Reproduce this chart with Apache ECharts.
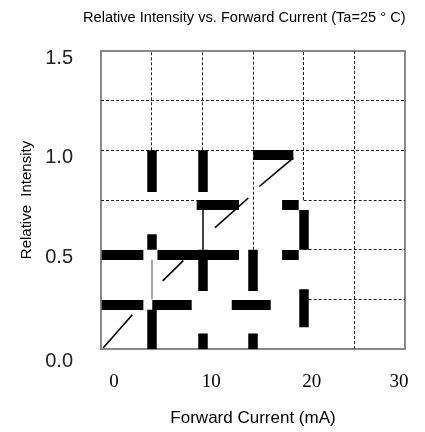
<!DOCTYPE html>
<html lang="en">
<head>
	<meta charset="UTF-8">
	<title>Relative Intensity vs. Forward Current</title>
	<style>
		html, body { margin: 0; padding: 0; background: #fff; }
		#main { width: 425px; height: 432px; }
	</style>
	<script src="https://cdn.jsdelivr.net/npm/echarts@6/dist/echarts.min.js"></script>
</head>
<body>
	<div id="main"></div>
	<script>
		// tick labels
		var xLabels = [0, 10, 20, 30];
		var yLabels = [0, 0.5, 1.0, 1.5];

		// curve pieces (mA, relative intensity)
		var curveA = [[0.23, 0.006], [3.09, 0.172]];
		var curveB = [[6.09, 0.343], [8.12, 0.445]];
		var curveC = [[11.25, 0.611], [14.54, 0.76]];
		var curveD = [[15.62, 0.818], [18.98, 0.962]];

		// thick vertical bars: [x, yFrom, yTo]
		var vBars = [
			[5, 0.79, 1.0], [10, 0.79, 1.0],
			[5, 0.5, 0.578], [10, 0.292, 0.5], [15, 0.292, 0.5],
			[20, 0.5, 0.70], [20, 0.109, 0.301],
			[5, 0, 0.197], [10, 0, 0.078], [15, 0, 0.078]
		];
		// thick horizontal bars: [y, xFrom, xTo]
		var hBars = [
			[0.977, 15.03, 18.98],
			[0.724, 9.44, 13.62], [0.724, 17.87, 19.51],
			[0.474, 0.07, 4.18], [0.474, 5.57, 13.62], [0.474, 17.87, 19.51],
			[0.222, 0.07, 4.18], [0.222, 5.06, 8.95], [0.222, 12.9, 16.75]
		];
		// thin connectors: [x, yFrom, yTo]
		var thinBlack = [[10, 0.50, 0.70]];
		var thinGray = [[5, 0.25, 0.45]];

		// dotted grid pieces
		var hGrid = [[1.25, 0, 30], [1.0, 0, 30], [0.75, 0, 9.44], [0.75, 20, 30], [0.5, 20, 30], [0.25, 20, 30]];
		var vGrid = [[5, 1.0, 1.5], [10, 1.0, 1.5], [15, 0.5, 1.5], [20, 0.75, 1.5], [25, 0, 1.5]];

		function vSeg(list) {
			return list.map(function (d) { return { coords: [[d[0], d[1]], [d[0], d[2]]] }; });
		}
		function hSeg(list) {
			return list.map(function (d) { return { coords: [[d[1], d[0]], [d[2], d[0]]] }; });
		}

		var chart = echarts.init(document.getElementById('main'));

		var option = {
			animation: false,
			backgroundColor: '#fff',
			title: {
				text: 'Relative Intensity vs. Forward Current (Ta=25 ° C)',
				left: 78,
				top: 5,
				textStyle: {
					fontFamily: 'Liberation Sans Narrow, Liberation Sans, Arial',
					fontSize: 14.6,
					fontWeight: 'normal',
					color: '#000'
				}
			},
			grid: {
				left: 101, top: 51, right: 20, bottom: 79,
				show: true,
				borderColor: '#888',
				borderWidth: 2
			},
			xAxis: {
				type: 'value',
				min: 0, max: 30, interval: 5,
				name: 'Forward Current (mA)',
				nameLocation: 'middle',
				nameGap: 61,
				nameTextStyle: { fontFamily: 'Liberation Sans', fontSize: 17, color: '#000' },
				axisLine: { show: false },
				axisTick: { show: false },
				splitLine: { show: false },
				axisLabel: {
					margin: 24,
					fontFamily: 'Liberation Serif',
					fontSize: 19,
					color: '#000',
					formatter: function (v) {
						return xLabels.indexOf(v) >= 0 ? '{s' + v + '|' + v + '}' : '';
					},
					rich: {
						s0: { fontFamily: 'Liberation Serif', fontSize: 19, padding: [0, 0, 0, 26] },
						s10: { fontFamily: 'Liberation Serif', fontSize: 19, padding: [0, 0, 0, 18] },
						s20: { fontFamily: 'Liberation Serif', fontSize: 19, padding: [0, 0, 0, 16] },
						s30: { fontFamily: 'Liberation Serif', fontSize: 19, padding: [0, 12, 0, 0] }
					}
				}
			},
			yAxis: {
				type: 'value',
				min: 0, max: 1.5, interval: 0.25,
				name: 'Relative  Intensity',
				nameLocation: 'middle',
				nameGap: 67,
				nameTextStyle: { fontFamily: 'Liberation Sans', fontSize: 15, color: '#000' },
				axisLine: { show: false },
				axisTick: { show: false },
				splitLine: { show: false },
				axisLabel: {
					margin: 28,
					color: '#222',
					formatter: function (v) {
						for (var i = 0; i < yLabels.length; i++) {
							if (Math.abs(yLabels[i] - v) < 1e-6) {
								return (v === 0 ? '{b|' : '{a|') + v.toFixed(1) + '}';
							}
						}
						return '';
					},
					rich: {
						a: { fontFamily: 'Liberation Sans', fontSize: 20, color: '#222', padding: [15, 0, 0, 0] },
						b: { fontFamily: 'Liberation Sans', fontSize: 20, color: '#222', padding: [24, 0, 0, 0] }
					}
				}
			},
			series: [
				{
					// dotted grid
					type: 'lines', coordinateSystem: 'cartesian2d', silent: true, z: 1,
					lineStyle: { color: '#222', width: 1, type: [3, 2], opacity: 1 },
					data: hSeg(hGrid).concat(vSeg(vGrid))
				},
				{
					type: 'lines', coordinateSystem: 'cartesian2d', silent: true, z: 2,
					lineStyle: { color: '#888', width: 1.5, opacity: 1 },
					data: vSeg(thinGray)
				},
				{
					type: 'lines', coordinateSystem: 'cartesian2d', silent: true, z: 2,
					lineStyle: { color: '#000', width: 1.5, opacity: 1 },
					data: vSeg(thinBlack)
				},
				{
					// curve
					type: 'lines', coordinateSystem: 'cartesian2d', silent: true, z: 3,
					lineStyle: { color: '#000', width: 1.6, opacity: 1 },
					data: [{ coords: curveA }, { coords: curveB }, { coords: curveC }, { coords: curveD }]
				},
				{
					type: 'lines', coordinateSystem: 'cartesian2d', silent: true, z: 4,
					lineStyle: { color: '#000', width: 9.5, cap: 'butt', opacity: 1 },
					data: vSeg(vBars)
				},
				{
					type: 'lines', coordinateSystem: 'cartesian2d', silent: true, z: 4,
					lineStyle: { color: '#000', width: 10, cap: 'butt', opacity: 1 },
					data: hSeg(hBars)
				}
			]
		};

		chart.setOption(option);
	</script>
</body>
</html>
